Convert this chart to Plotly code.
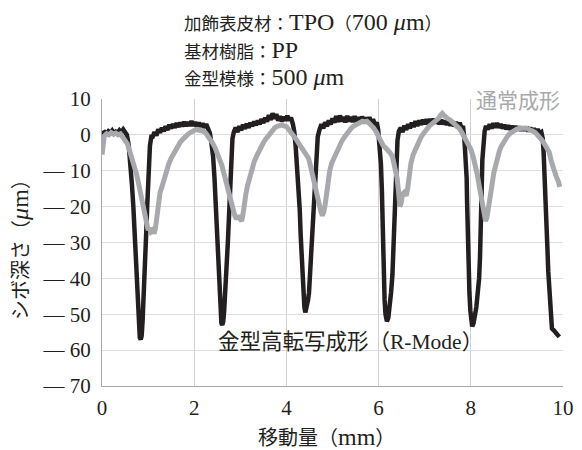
import plotly.graph_objects as go

# R-Mode (black) profile
rmode_x = [0.00, 0.02, 0.06, 0.10, 0.14, 0.18, 0.22, 0.26, 0.30, 0.34, 0.38, 0.42, 0.46, 0.50, 0.54,
           0.58, 0.62, 0.65, 0.68, 0.71, 0.73, 0.75, 0.77, 0.79, 0.82, 0.84, 0.86, 0.88, 0.90, 0.92,
           0.94, 0.96, 0.98, 1.00, 1.02, 1.04, 1.07,
           1.10, 1.14, 1.18, 1.22, 1.26, 1.30, 1.34, 1.38, 1.42, 1.46, 1.50, 1.54, 1.58, 1.62, 1.66,
           1.70, 1.74, 1.78, 1.82, 1.86, 1.90, 1.94, 1.98, 2.02, 2.06, 2.10, 2.14, 2.18, 2.22, 2.26,
           2.30, 2.34,
           2.37, 2.41, 2.44, 2.47, 2.49, 2.51, 2.53, 2.55, 2.57, 2.59, 2.61, 2.63, 2.65, 2.67, 2.69,
           2.71, 2.73, 2.75, 2.77, 2.79, 2.81, 2.83, 2.86,
           2.90, 2.94, 2.98, 3.02, 3.06, 3.10, 3.14, 3.18, 3.22, 3.26, 3.30, 3.34, 3.38, 3.42, 3.46,
           3.50, 3.54, 3.58, 3.62, 3.66, 3.70, 3.74, 3.78, 3.82, 3.86, 3.90, 3.94, 3.98, 4.02, 4.06,
           4.10, 4.14,
           4.17, 4.20, 4.23, 4.26, 4.29, 4.31, 4.33, 4.35, 4.37, 4.39, 4.41, 4.43, 4.45, 4.47, 4.49,
           4.51, 4.53, 4.55, 4.57, 4.60, 4.62, 4.65, 4.68, 4.72,
           4.76, 4.80, 4.84, 4.88, 4.92, 4.96, 5.00, 5.04, 5.08, 5.12, 5.16, 5.20, 5.24, 5.28, 5.32,
           5.36, 5.40, 5.44, 5.48, 5.52, 5.56, 5.60, 5.64, 5.68, 5.72, 5.76, 5.80, 5.84, 5.88, 5.92,
           5.96, 5.99,
           6.02, 6.05, 6.07, 6.08, 6.09, 6.10, 6.11, 6.13, 6.15, 6.18, 6.21, 6.24, 6.27, 6.30, 6.32,
           6.34, 6.36, 6.37, 6.39, 6.41, 6.44,
           6.48, 6.52, 6.56, 6.60, 6.64, 6.68, 6.72, 6.76, 6.80, 6.84, 6.88, 6.92, 6.96, 7.00, 7.04,
           7.08, 7.12, 7.16, 7.20, 7.24, 7.28, 7.32, 7.36, 7.40, 7.44, 7.48, 7.52, 7.56, 7.60, 7.64,
           7.68, 7.72, 7.76, 7.80, 7.83,
           7.86, 7.89, 7.91, 7.92, 7.93, 7.94, 7.95, 7.97, 7.99, 8.01, 8.03, 8.06, 8.09, 8.12, 8.15,
           8.18, 8.20, 8.22, 8.23, 8.24, 8.25, 8.27, 8.30,
           8.33, 8.37, 8.41, 8.45, 8.49, 8.53, 8.57, 8.61, 8.65, 8.69, 8.73, 8.77, 8.81, 8.85, 8.89,
           8.93, 8.97, 9.01, 9.05, 9.09, 9.13, 9.17, 9.21, 9.25, 9.29, 9.33, 9.37, 9.41, 9.45, 9.49,
           9.53, 9.56,
           9.58, 9.60, 9.62, 9.64, 9.66, 9.68, 9.70, 9.72, 9.74, 9.76, 9.80, 9.84, 9.88, 9.92]
rmode_y = [-1.5, 0.5, 0.8, 0.3, 1.0, 0.6, 1.2, 0.4, 0.9, 0.5, 1.3, 0.8, 1.5, 0.8, 0.0,
           -3, -8, -14, -20, -28, -36, -42, -48, -53, -56.5, -57, -56, -52, -47, -41,
           -34, -27, -20, -14, -8, -3, -0.5,
           -0.5, 0.8, -0.2, 1.5, 0.6, 2.0, 1.0, 2.4, 1.4, 2.8, 1.8, 3.0, 2.0, 3.3, 2.2,
           3.4, 2.4, 3.6, 2.5, 3.5, 2.6, 3.8, 2.6, 3.5, 2.4, 3.4, 2.3, 3.2, 2.0, 3.0,
           1.5, 0.5,
           -2, -6, -12, -20, -28, -35, -41, -46, -50, -52.5, -53, -52, -49, -45, -40,
           -35, -30, -24, -18, -11, -5, -1, 0.8,
           2.0, 0.8, 2.4, 1.3, 2.8, 1.7, 3.1, 2.0, 3.4, 2.4, 3.7, 2.7, 4.0, 3.0, 4.4,
           3.3, 4.8, 3.7, 5.5, 4.2, 6.0, 4.5, 5.8, 4.0, 5.2, 3.8, 5.0, 4.0, 5.3, 4.0,
           4.8, 3.0,
           1, -3, -8, -14, -21, -28, -35, -41, -45, -48, -49.5, -48.5, -46.5, -46, -44,
           -39, -33, -28, -22, -16, -10, -4, -0.5, 1.5,
           3.0, 1.8, 3.5, 2.4, 4.0, 2.9, 4.6, 3.4, 5.2, 3.6, 5.4, 3.8, 5.0, 3.5, 5.3,
           3.8, 5.0, 3.6, 5.2, 3.7, 4.9, 3.5, 5.1, 3.6, 4.8, 3.5, 4.9, 3.3, 4.4, 2.8,
           3.5, 1.5,
           -2, -8, -15, -22, -30, -36, -41, -46, -50, -52, -51, -48, -44, -39, -33,
           -27, -20, -13, -6, -1.5, 1,
           2.0, 0.8, 2.6, 1.4, 3.0, 1.8, 3.4, 2.2, 3.8, 2.5, 4.0, 2.8, 4.2, 3.0, 4.3,
           3.0, 4.4, 3.2, 4.5, 3.2, 4.3, 3.0, 4.2, 3.0, 4.0, 2.8, 3.9, 2.6, 3.8, 2.4,
           3.6, 2.0, 3.4, 1.8, 2.5,
           -1, -6, -12, -19, -26, -32, -38, -44, -49, -52, -53.4, -52.5, -50.5, -48, -44,
           -40, -34, -27, -20, -13, -7, -2, 1,
           2.5, 1.5, 3.0, 1.8, 3.2, 2.0, 3.3, 2.0, 3.0, 1.8, 2.8, 1.6, 2.6, 1.5, 2.5,
           1.4, 2.4, 1.3, 2.3, 1.2, 2.2, 1.2, 2.2, 1.0, 2.0, 1.0, 1.8, 0.8, 1.6, 0.5,
           0.8, -1,
           -5, -10, -17, -24, -31, -38, -43, -48, -52, -54, -54.5, -55, -55.8, -56.3]

# Conventional molding (gray) profile
conv_x = [0.00, 0.02, 0.05, 0.10, 0.15, 0.20, 0.25, 0.30, 0.35, 0.40, 0.45, 0.50, 0.55, 0.60, 0.65,
          0.70, 0.75, 0.80, 0.85, 0.90, 0.95, 0.98, 1.00, 1.03, 1.06, 1.10, 1.13, 1.16, 1.19, 1.22,
          1.26, 1.30, 1.35, 1.40, 1.45, 1.50, 1.55, 1.60, 1.65, 1.70, 1.75, 1.80, 1.85, 1.90, 1.95,
          2.00, 2.05, 2.10, 2.15, 2.20, 2.25, 2.30, 2.35, 2.40, 2.45, 2.50, 2.55, 2.60, 2.65, 2.70,
          2.75, 2.80, 2.84, 2.88, 2.92, 2.96, 3.00, 3.03, 3.06, 3.09, 3.12, 3.16, 3.20, 3.25, 3.30,
          3.35, 3.40, 3.45, 3.50, 3.55, 3.60, 3.65, 3.70, 3.75, 3.80, 3.85, 3.90, 3.95, 4.00, 4.05,
          4.10, 4.15, 4.20, 4.25, 4.30, 4.35, 4.40, 4.44, 4.48, 4.52, 4.56, 4.60, 4.64, 4.68, 4.72,
          4.75, 4.78, 4.81, 4.84, 4.87, 4.90, 4.94, 4.98, 5.02, 5.06, 5.10, 5.15, 5.20, 5.25, 5.30,
          5.35, 5.40, 5.45, 5.50, 5.55, 5.60, 5.65, 5.70, 5.75, 5.80, 5.85, 5.90, 5.95, 6.00, 6.05,
          6.10, 6.15, 6.20, 6.25, 6.30, 6.35, 6.40, 6.43, 6.46, 6.49, 6.52, 6.56, 6.60, 6.63, 6.66,
          6.70, 6.75, 6.80, 6.85, 6.90, 6.95, 7.00, 7.05, 7.10, 7.15, 7.20, 7.25, 7.30, 7.35, 7.38,
          7.42, 7.46, 7.50, 7.55, 7.60, 7.65, 7.70, 7.75, 7.80, 7.85, 7.90, 7.95, 8.00, 8.05, 8.10,
          8.14, 8.18, 8.22, 8.26, 8.29, 8.32, 8.35, 8.38, 8.42, 8.46, 8.50, 8.54, 8.58, 8.62, 8.66,
          8.70, 8.75, 8.80, 8.85, 8.90, 8.95, 9.00, 9.05, 9.10, 9.15, 9.20, 9.25, 9.30, 9.35, 9.40,
          9.45, 9.50, 9.55, 9.60, 9.65, 9.70, 9.75, 9.80, 9.85, 9.90, 9.93]
conv_y = [-5.5, -2, -0.3, 0.3, 0.0, 0.6, 0.2, 0.5, 0.0, 0.3, -0.5, -1.2, -2.5, -4.5, -6.5,
          -8.5, -11, -14, -17.5, -21, -24, -25.5, -26.5, -26, -27, -26.5, -27.5, -26, -23, -19,
          -16, -14.5, -12, -10.5, -8, -6.5, -5.2, -4.2, -3, -2, -1.3, -0.5, 0, 0.5, 1.0,
          1.2, 1.5, 1.3, 1.4, 1.0, 0.5, -0.3, -1.3, -2.3, -3.5, -5.0, -6.5, -8.5, -11, -13.5,
          -16, -18.5, -21, -22.5, -23.5, -22.5, -23.5, -24, -22, -18.5, -16.5, -14, -12, -9.5, -7.5,
          -6, -4.5, -3.2, -2.2, -1.2, -0.3, 0.5, 1.3, 2.0, 2.4, 2.6, 2.8, 2.5, 2.3, 1.5,
          0.8, -0.2, -1.0, -2.0, -3.0, -4.2, -5.0, -5.5, -6.5, -8.5, -11, -13.5, -15.5, -18, -20,
          -21.5, -22.5, -21.5, -19.5, -16, -13, -10, -8, -6.8, -5.5, -4.2, -3.0, -1.8, -0.8, 0.2,
          1.0, 1.8, 2.4, 2.8, 3.2, 3.6, 3.8, 3.6, 3.8, 3.2, 2.6, 1.8, 0.8, -0.5, -1.8,
          -3.0, -3.6, -4.2, -5.0, -6.0, -8.5, -12, -15.5, -20, -19, -16.5, -16, -17, -15, -11,
          -8, -5.5, -3.8, -2.5, -1.2, 0.0, 1.0, 1.8, 2.5, 3.0, 3.5, 4.0, 4.6, 5.6, 6.0,
          5.4, 4.8, 4.5, 4.2, 3.7, 3.2, 2.5, 1.8, 0.8, -0.3, -1.5, -2.6, -4.0, -6.0, -8.5,
          -11, -14, -17.5, -21, -23.5, -24, -23, -21, -18, -14, -10.5, -8, -6, -4.5, -3.2,
          -2.2, -1.2, -0.3, 0.4, 0.9, 1.3, 1.6, 1.8, 1.9, 1.7, 1.9, 1.6, 1.4, 1.0, 0.6,
          0.0, -0.8, -1.6, -2.6, -3.5, -4.8, -7.5, -10, -11.5, -13, -14.5]

x_ticks = [0, 2, 4, 6, 8, 10]
y_ticks = [10, 0, -10, -20, -30, -40, -50, -60, -70]
y_ticktext = ["10", "0", "— 10", "— 20", "— 30", "— 40", "— 50", "— 60", "— 70"]

BLACK = "#231f20"
GRAY = "#a7a9ac"
FONT = "Liberation Serif, Noto Sans CJK JP"


def cj(s, size):
    return f'<span style="font-size:{size}px">{s}</span>'


fig = go.Figure()
fig.add_trace(go.Scatter(x=rmode_x, y=rmode_y, mode="lines",
                         line=dict(color=BLACK, width=4.5), showlegend=False))
fig.add_trace(go.Scatter(x=conv_x, y=conv_y, mode="lines",
                         line=dict(color=GRAY, width=5), showlegend=False))

title_lines = [
    cj("加飾表皮材：", 17.5) + "TPO" + cj("（", 17.5) + "700 <i>μ</i>m" + cj("）", 17.5),
    cj("基材樹脂：", 17.5) + "PP",
    cj("金型模様：", 17.5) + "500 <i>μ</i>m",
]
# page is shown with an 8px body margin, so figure coords = screen coords - 8
title_y = [1.268, 1.171, 1.078]
annotations = []
for t, yy in zip(title_lines, title_y):
    annotations.append(dict(text=t, xref="paper", yref="paper", x=0.174, y=yy,
                            xanchor="left", yanchor="middle", showarrow=False,
                            font=dict(family=FONT, size=24, color=BLACK)))

annotations.append(dict(text="通常成形", xref="x", yref="y", x=9.03, y=9.45,
                        xanchor="center", yanchor="middle", showarrow=False,
                        bgcolor="white", borderpad=0,
                        font=dict(family=FONT, size=21, color=GRAY)))
annotations.append(dict(text="金型高転写成形（R-Mode）", xref="x", yref="y", x=5.4, y=-57.7,
                        xanchor="center", yanchor="middle", showarrow=False,
                        font=dict(family=FONT, size=21.5, color=BLACK)))
annotations.append(dict(text=cj("移動量（", 20) + "mm" + cj("）", 20),
                        xref="paper", yref="paper", x=0.487, y=-0.178,
                        xanchor="center", yanchor="middle", showarrow=False,
                        font=dict(family=FONT, size=24, color=BLACK)))
annotations.append(dict(text=cj("シボ深さ（", 20) + "<i>μ</i>m" + cj("）", 20),
                        xref="paper", yref="paper", x=-0.178, y=0.495,
                        xanchor="center", yanchor="middle", showarrow=False, textangle=-90,
                        font=dict(family=FONT, size=24, color=BLACK)))

fig.update_layout(
    width=574, height=442,
    margin=dict(l=94, r=19, t=91, b=64, autoexpand=False),
    paper_bgcolor="white", plot_bgcolor="white",
    font=dict(family=FONT, color=BLACK),
    annotations=annotations,
    xaxis=dict(range=[0, 10], tickvals=x_ticks, ticktext=[str(v) for v in x_ticks],
               showgrid=True, gridcolor="#d2d2d2", gridwidth=1,
               showline=True, linecolor="#a8a8a8", linewidth=1, automargin=False,
               zeroline=False, ticks="", ticklabelstandoff=3,
               tickfont=dict(family=FONT, size=21, color=BLACK)),
    yaxis=dict(range=[-70, 10], tickvals=y_ticks, ticktext=y_ticktext,
               showgrid=True, gridcolor="#dedede", gridwidth=1,
               showline=True, linecolor="#a8a8a8", linewidth=1, automargin=False,
               zeroline=False, ticks="", ticklabelstandoff=6,
               tickfont=dict(family=FONT, size=21, color=BLACK)),
)

fig.write_html("out.html")
